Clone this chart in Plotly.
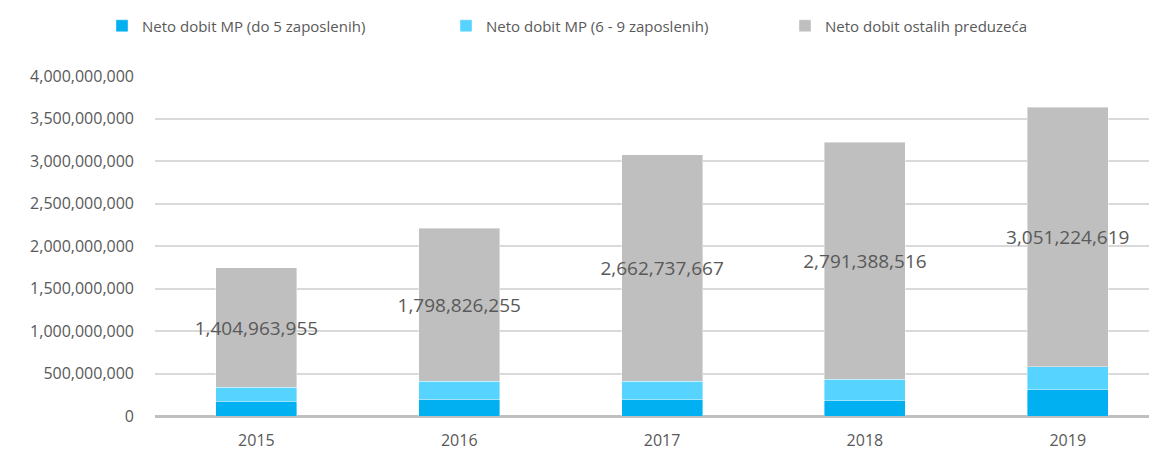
import plotly.graph_objects as go

years = ["2015", "2016", "2017", "2018", "2019"]
mp_do5 = [168_000_000, 200_000_000, 192_000_000, 180_000_000, 310_000_000]
mp_6_9 = [169_000_000, 208_000_000, 216_000_000, 251_000_000, 270_000_000]
ostala = [1_404_963_955, 1_798_826_255, 2_662_737_667, 2_791_388_516, 3_051_224_619]

names = ["Neto dobit MP (do 5 zaposlenih)", "Neto dobit MP (6 - 9 zaposlenih)", "Neto dobit ostalih preduzeća"]
colors = ["#00b0f0", "#57d3ff", "#bfbfbf"]

FONT = "Open Sans, Liberation Sans, sans-serif"
TXT = "#595959"
# the page body adds an 8px offset, so the figure is drawn 8px smaller
W, H = 1149, 444
L, R_EDGE, T, B = 147, 1149, 68, 408
PW = R_EDGE - L
PH = B - T

def px_x(p):
    return (p - L) / PW

leg_y = 1 + (T - 18) / PH
line = dict(color="rgba(255,255,255,0.5)", width=0.8)

fig = go.Figure()
fig.add_trace(go.Bar(x=years, y=mp_do5, name=names[0], legend="legend",
                     marker=dict(color=colors[0], line=line), width=0.4))
fig.add_trace(go.Bar(x=years, y=mp_6_9, name=names[1], legend="legend2",
                     marker=dict(color=colors[1], line=line), width=0.4))
fig.add_trace(go.Bar(x=years, y=ostala, name=names[2], legend="legend3",
                     marker=dict(color=colors[2], line=line), width=0.4,
                     text=[f"{v:,}" for v in ostala], textposition="inside", insidetextanchor="middle",
                     textangle=0, constraintext="none", cliponaxis=False,
                     textfont=dict(family=FONT, size=19, color=TXT)))

def leg(xpx):
    return dict(orientation="h", x=px_x(xpx), xanchor="left", y=leg_y, yanchor="middle",
                font=dict(family=FONT, size=15, color=TXT), itemwidth=30,
                bgcolor="rgba(0,0,0,0)")

fig.update_layout(
    barmode="stack",
    width=W, height=H,
    margin=dict(l=L, r=0, t=T, b=H - B, autoexpand=False),
    paper_bgcolor="white", plot_bgcolor="white",
    font=dict(family=FONT, size=16, color=TXT),
    showlegend=True,
    legend=leg(94), legend2=leg(438), legend3=leg(777),
    xaxis=dict(type="category", range=[-0.5, 4.44], showgrid=False, ticks="", showline=False,
               automargin=False, ticklabelstandoff=13,
               tickfont=dict(family=FONT, size=16, color=TXT)),
    yaxis=dict(range=[0, 4_000_000_000], dtick=500_000_000, tickformat=",", showgrid=True,
               gridcolor="#d9d9d9", gridwidth=1.5, zeroline=True, zerolinecolor="#bfbfbf", zerolinewidth=3,
               ticks="", ticklabelstandoff=20, automargin=False,
               tickfont=dict(family=FONT, size=16, color=TXT)),
)

fig.write_html("out.html")
